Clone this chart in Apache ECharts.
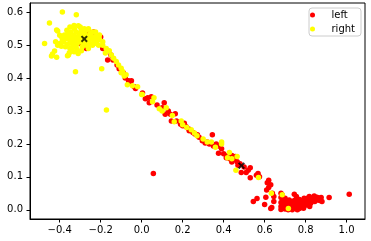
<!DOCTYPE html>
<html>
<head>
<meta charset="utf-8">
<script src="https://cdn.jsdelivr.net/npm/echarts@6/dist/echarts.min.js"></script>
<style>html,body{margin:0;padding:0;background:#fff}#c{width:371px;height:241px}</style>
</head>
<body>
<div id="c"></div>
<script>
const xTicks = [-0.4, -0.2, 0.0, 0.2, 0.4, 0.6, 0.8, 1.0];
const yTicks = [0.0, 0.1, 0.2, 0.3, 0.4, 0.5, 0.6];
const seriesNames = ['left', 'right'];

const leftPoints = [
  [-0.26,0.54],[-0.235,0.54],[-0.3,0.505],[-0.27,0.49],[-0.166,0.455],[-0.09,0.416],[-0.064,0.392],
  [-0.2,0.525],[-0.15,0.47],[-0.12,0.44],[-0.25,0.52],[-0.33,0.51],
  [-0.19,0.49],[-0.14,0.455],[-0.11,0.428],[-0.08,0.4],[-0.06,0.386],[-0.03,0.368],
  [-0.05,0.392],[-0.036,0.374],[0.004,0.355],[0.018,0.337],[0.047,0.343],[0.037,0.325],[0.03,0.34],
  [0.11,0.325],[0.096,0.307],[0.115,0.29],[0.164,0.292],[0.145,0.27],[0.17,0.27],[0.208,0.263],
  [0.217,0.252],[0.232,0.24],[0.272,0.228],[0.345,0.228],[0.296,0.21],[0.32,0.206],[0.364,0.2],
  [0.38,0.193],[0.39,0.185],[0.375,0.172],[0.413,0.158],[0.452,0.152],[0.466,0.146],[0.457,0.162],
  [0.486,0.113],[0.51,0.113],[0.53,0.128],[0.53,0.097],[0.5,0.13],[0.48,0.14],[0.057,0.11],
  [0.075,0.318],[0.13,0.3],[0.19,0.26],[0.25,0.235],[0.28,0.22],[0.33,0.2],[0.4,0.17],[0.43,0.155],[0.44,0.165],
  [0.1,0.31],[0.14,0.29],[0.2,0.255],[0.23,0.245],[0.26,0.23],[0.31,0.203],[0.35,0.194],[0.42,0.165],
  [0.47,0.135],[0.44,0.145],[0.52,0.12],
  [0.568,0.11],[0.575,0.1],[0.56,0.105],[0.545,0.025],[0.563,0.034],[0.606,0.038],[0.6,0.016],
  [0.613,0.082],[0.62,0.068],[0.63,0.076],[0.638,0.05],[0.645,0.04],[0.645,0.025],[0.635,0.007],
  [0.63,0.004],[0.62,0.09],[0.61,0.06],
  [0.68,0.05],[0.68,0.037],[0.68,0.022],[0.68,0.01],[0.68,0.001],[0.686,0.045],[0.69,0.03],
  [0.69,0.005],[0.695,0.015],[0.70,0.002],[0.70,0.02],[0.704,0.025],[0.71,0.008],[0.71,0.015],
  [0.715,0.0],[0.72,0.012],[0.72,0.02],[0.725,0.005],[0.73,0.013],[0.73,0.025],[0.735,0.0],
  [0.74,0.008],[0.74,0.018],[0.745,0.047],[0.745,0.028],[0.75,0.004],[0.75,0.014],[0.755,0.022],
  [0.755,0.04],[0.76,0.008],[0.76,0.03],[0.765,0.016],[0.77,0.004],[0.77,0.022],[0.77,0.031],
  [0.775,0.012],[0.78,0.008],[0.78,0.026],[0.785,0.018],[0.79,0.012],[0.79,0.03],[0.793,0.035],
  [0.80,0.02],[0.80,0.014],[0.805,0.028],[0.81,0.018],[0.81,0.035],[0.815,0.024],[0.818,0.04],
  [0.82,0.03],[0.825,0.02],[0.83,0.027],[0.83,0.036],[0.835,0.032],[0.842,0.042],[0.845,0.025],
  [0.85,0.033],[0.855,0.038],[0.86,0.03],[0.865,0.036],[0.876,0.037],[0.88,0.025],[0.87,0.028],
  [0.915,0.037],[1.013,0.047],[0.7,0.035],[0.72,0.03],[0.69,0.012],[0.76,0.0],[0.79,0.005],[0.82,0.01]
];

const rightPoints = [
  [-0.474,0.505],[-0.45,0.567],[-0.387,0.601],[-0.319,0.592],[-0.415,0.546],[-0.377,0.531],[-0.387,0.516],
  [-0.353,0.528],[-0.328,0.549],[-0.309,0.559],[-0.338,0.512],[-0.362,0.503],[-0.392,0.497],[-0.425,0.482],
  [-0.435,0.473],[-0.415,0.463],[-0.44,0.467],[-0.343,0.488],[-0.353,0.477],[-0.362,0.468],[-0.32,0.494],
  [-0.304,0.522],[-0.255,0.531],[-0.24,0.54],[-0.22,0.528],[-0.245,0.503],[-0.206,0.519],[-0.19,0.51],
  [-0.294,0.483],[-0.323,0.419],[-0.172,0.303],[-0.195,0.428],[-0.41,0.543],[-0.372,0.495],[-0.357,0.47],
  [-0.315,0.486],
  [-0.37,0.52],[-0.36,0.535],[-0.35,0.515],[-0.345,0.54],[-0.34,0.525],[-0.335,0.5],[-0.33,0.53],
  [-0.325,0.515],[-0.32,0.54],[-0.315,0.505],[-0.31,0.525],[-0.305,0.535],[-0.3,0.51],[-0.295,0.545],
  [-0.29,0.525],[-0.285,0.505],[-0.28,0.535],[-0.275,0.515],[-0.27,0.545],[-0.265,0.525],[-0.26,0.505],
  [-0.255,0.515],[-0.25,0.535],[-0.245,0.52],[-0.24,0.5],[-0.235,0.525],[-0.23,0.51],[-0.225,0.54],
  [-0.215,0.515],[-0.21,0.5],[-0.38,0.51],[-0.39,0.525],[-0.4,0.505],[-0.365,0.545],[-0.35,0.555],
  [-0.3,0.555],[-0.28,0.55],[-0.26,0.55],[-0.33,0.56],[-0.4,0.53],[-0.41,0.5],[-0.42,0.51],[-0.35,0.49],
  [-0.33,0.48],[-0.31,0.475],[-0.29,0.495],[-0.27,0.5],[-0.26,0.49],[-0.32,0.52],[-0.34,0.505],
  [-0.36,0.52],[-0.3,0.53],[-0.27,0.525],
  [-0.215,0.516],[-0.206,0.531],[-0.22,0.505],[-0.19,0.5],[-0.173,0.49],[-0.158,0.483],[-0.177,0.476],
  [-0.148,0.47],[-0.137,0.46],[-0.124,0.45],[-0.113,0.44],[-0.1,0.43],[-0.093,0.42],[-0.076,0.41],
  [-0.07,0.38],[-0.1,0.416],[-0.085,0.406],[-0.045,0.377],[-0.02,0.374],[0.003,0.35],[0.0,0.35],
  [0.053,0.328],[0.086,0.307],[0.1,0.3],[0.15,0.286],[0.159,0.267],[0.193,0.27],[0.2,0.258],
  [0.242,0.243],[0.258,0.233],[0.32,0.206],[0.34,0.206],[0.39,0.206],[0.428,0.174],[0.419,0.158],
  [0.466,0.162],[0.39,0.2],[0.46,0.12],[0.57,0.098],[0.633,0.05],[0.686,0.046],[0.716,0.004],
  [0.06,0.34],[0.12,0.31],[0.22,0.25],[0.27,0.225],[0.3,0.215],[0.36,0.19],[0.44,0.155]
];

const centerPoints = [[-0.28,0.519],[0.487,0.134]];

const fmt = v => (Math.round(v * 10) / 10).toFixed(1).replace('-', '\u2212');
const font = 'DejaVu Sans';
const chart = echarts.init(document.getElementById('c'), null, {renderer: 'canvas'});
chart.setOption({
  animation: false,
  backgroundColor: '#fff',
  grid: {left: 30, right: 6, top: 3, bottom: 22, show: true, borderColor: '#000', borderWidth: 1, backgroundColor: 'transparent'},
  legend: {
    data: seriesNames.map(n => ({name: n, icon: 'circle'})),
    orient: 'vertical', right: 10, top: 8,
    itemWidth: 28, itemHeight: 5, itemGap: 4,
    padding: [2, 6, 2, 1],
    borderColor: '#ccc', borderWidth: 1, borderRadius: 3,
    backgroundColor: 'rgba(255,255,255,0.8)',
    textStyle: {fontSize: 10, color: '#000', fontFamily: font}
  },
  xAxis: {
    type: 'value', min: -0.545, max: 1.09,
    axisLine: {show: true, onZero: false, lineStyle: {color: '#000', width: 1}},
    axisTick: {show: true, length: 3.5, customValues: xTicks, lineStyle: {color: '#000'}},
    axisLabel: {show: true, customValues: xTicks, formatter: fmt, fontSize: 10, color: '#000', fontFamily: font, margin: 6},
    splitLine: {show: false}
  },
  yAxis: {
    type: 'value', min: -0.028, max: 0.628,
    axisLine: {show: true, onZero: false, lineStyle: {color: '#000', width: 1}},
    axisTick: {show: true, length: 3.5, customValues: yTicks, lineStyle: {color: '#000'}},
    axisLabel: {show: true, customValues: yTicks, formatter: fmt, fontSize: 10, color: '#000', fontFamily: font, margin: 7},
    splitLine: {show: false}
  },
  series: [
    {name: seriesNames[0], type: 'scatter', data: leftPoints, symbol: 'circle', symbolSize: 5.5, itemStyle: {color: '#ff0000', opacity: 1}, z: 2},
    {name: seriesNames[1], type: 'scatter', data: rightPoints, symbol: 'circle', symbolSize: 5.5, itemStyle: {color: '#ffff00', opacity: 1}, z: 3},
    {name: 'center', type: 'scatter', data: centerPoints, symbol: 'path://M0,2 L2,0 L5,3 L8,0 L10,2 L7,5 L10,8 L8,10 L5,7 L2,10 L0,8 L3,5 Z', symbolSize: 7, itemStyle: {color: '#000'}, z: 4}
  ]
});
</script>
</body>
</html>
